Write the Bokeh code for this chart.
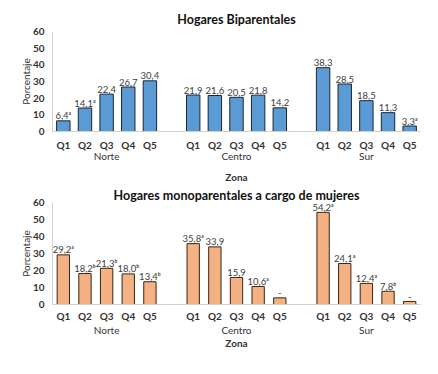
from bokeh.plotting import figure
from bokeh.models import (FactorRange, ColumnDataSource, Range1d, Title,
                          CategoricalAxis, Spacer)
from bokeh.layouts import column, row
from bokeh.core.properties import value
from bokeh.embed import file_html
from bokeh.resources import INLINE

zones = ["Norte", "Centro", "Sur"]
quintiles = ["Q1", "Q2", "Q3", "Q4", "Q5"]

bi_values = [6.4, 14.1, 22.4, 26.7, 30.4,
             21.9, 21.6, 20.5, 21.8, 14.2,
             38.3, 28.5, 18.5, 11.3, 3.3]
bi_labels = ["6,4ᵃ", "14,1ᵃ", "22,4", "26,7", "30,4",
             "21,9", "21,6", "20,5", "21,8", "14,2",
             "38,3", "28,5", "18,5", "11,3", "3,3ᵃ"]

mono_values = [29.2, 18.2, 21.3, 18.0, 13.4,
               35.8, 33.9, 15.9, 10.6, 3.9,
               54.2, 24.1, 12.4, 7.8, 1.8]
mono_labels = ["29,2ᵃ", "18,2ᵇ", "21,3ᵇ", "18,0ᵇ", "13,4ᵇ",
               "35,8ᵃ", "33,9", "15,9", "10,6ᵃ", "-",
               "54,2ᵃ", "24,1ᵃ", "12,4ᵃ", "7,8ᵇ", "-"]

y_ticks = [0, 10, 20, 30, 40, 50, 60]

FONT = "Lato"
TXT = "#333333"


def no_ticks(ax):
    ax.major_tick_line_color = None
    ax.minor_tick_line_color = None
    ax.major_tick_out = 0
    ax.major_tick_in = 0
    ax.minor_tick_out = 0
    ax.minor_tick_in = 0


def make_chart(title, values, labels, fill, outline, frame_h, bar_w,
               title_standoff, q_standoff, zone_standoff, zona_standoff):
    factors = [(z, q) for z in zones for q in quintiles]
    src = ColumnDataSource(dict(x=factors, top=values, label=labels))
    n_q = len(quintiles)
    gap = 1.0
    p = figure(x_range=FactorRange(factors=factors, group_padding=gap, range_padding=0),
               y_range=Range1d(0, 60),
               frame_width=368, frame_height=frame_h,
               min_border_left=42, min_border_right=12,
               min_border_top=0, min_border_bottom=0,
               output_backend="svg", toolbar_location=None,
               outline_line_color=None, background_fill_color="white")
    # zone range aligned with the centre of each group of quintiles
    p.extra_x_ranges = {"zones": FactorRange(factors=zones, factor_padding=n_q + gap - 1,
                                             range_padding=(n_q - 1) / 2,
                                             range_padding_units="absolute")}
    t = Title(text=title, align="center", text_font=FONT, text_font_size="12.5px",
              text_font_style="bold", text_color="#111111", standoff=title_standoff)
    p.add_layout(t, "above")
    p.vbar(x="x", top="top", width=bar_w, source=src, fill_color=fill,
           line_color=outline, line_width=1)
    p.text(x="x", y="top", text="label", source=src, text_align="center",
           text_baseline="alphabetic", y_offset=-5, text_font=value(FONT),
           text_font_size="9.5px", text_color="#404040")
    p.xgrid.visible = False
    p.ygrid.visible = False

    ya = p.yaxis[0]
    ya.ticker = y_ticks
    ya.axis_label = "Porcentaje"
    ya.axis_label_text_font = FONT
    ya.axis_label_text_font_size = "10px"
    ya.axis_label_text_font_style = "normal"
    ya.axis_label_text_color = TXT
    ya.axis_label_standoff = -2
    ya.major_label_text_font = FONT
    ya.major_label_text_font_size = "10px"
    ya.major_label_text_font_style = "bold"
    ya.major_label_text_color = TXT
    no_ticks(ya)
    ya.axis_line_color = "#D0D0D0"
    ya.major_label_standoff = 8

    xa = p.xaxis[0]
    xa.major_label_text_font = FONT
    xa.major_label_text_font_size = "10px"
    xa.major_label_text_font_style = "bold"
    xa.major_label_text_color = TXT
    xa.major_label_standoff = q_standoff
    xa.group_text_font_size = "1px"
    xa.group_text_color = None
    xa.separator_line_color = None
    no_ticks(xa)
    xa.axis_line_color = "#D0D0D0"

    za = CategoricalAxis(x_range_name="zones", axis_label="Zona")
    za.axis_label_text_font = FONT
    za.axis_label_text_font_size = "10px"
    za.axis_label_text_font_style = "bold"
    za.axis_label_text_color = TXT
    za.axis_label_standoff = zona_standoff
    za.major_label_text_font = FONT
    za.major_label_text_font_size = "10px"
    za.major_label_text_font_style = "normal"
    za.major_label_text_color = TXT
    za.major_label_standoff = zone_standoff
    za.axis_line_color = None
    no_ticks(za)
    p.add_layout(za, "below")
    return p


p1 = make_chart("Hogares Biparentales", bi_values, bi_labels,
                "#5B9BD5", "#1C2633", 100, 0.62, 9, 7, -4, 6)
p2 = make_chart("Hogares monoparentales a cargo de mujeres", mono_values, mono_labels,
                "#F4B183", "#3A2618", 102, 0.57, 0, 5, -1, -2)

layout = row(Spacer(width=10), column(Spacer(height=5), p1, p2, spacing=0), spacing=0)
open("out.html", "w").write(file_html(layout, INLINE))
